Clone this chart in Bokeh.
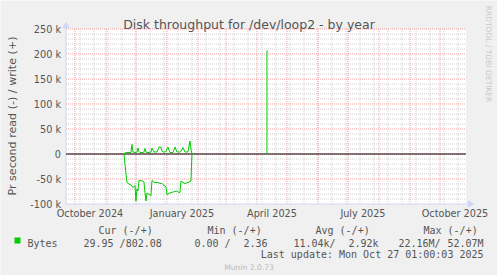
import math
import pandas as pd
from bokeh.plotting import figure
from bokeh.models import FixedTicker, Label, BoxAnnotation, Range1d
from bokeh.embed import file_html
from bokeh.resources import INLINE

# ---------------- data ----------------
dates = ["2024-11-19", "2024-11-20", "2024-11-22", "2024-11-24", "2024-11-26", "2024-11-27",
         "2024-11-28", "2024-11-30", "2024-12-01", "2024-12-02", "2024-12-03", "2024-12-04",
         "2024-12-05", "2024-12-08", "2024-12-09", "2024-12-10", "2024-12-11", "2024-12-12",
         "2024-12-14", "2024-12-16", "2024-12-17", "2024-12-19", "2024-12-20", "2024-12-22",
         "2024-12-23", "2024-12-24", "2024-12-26", "2024-12-27", "2024-12-28", "2024-12-30",
         "2024-12-31", "2025-01-01", "2025-01-02", "2025-01-04", "2025-01-07", "2025-01-09",
         "2025-01-11", "2025-01-13", "2025-01-14", "2025-01-15", "2025-01-17", "2025-01-19",
         "2025-01-22", "2025-01-24", "2025-01-25", "2025-01-26"]
write_bps = [0, 2000, 3000, 3000, 3000, 19000,
             4000, 3000, 3000, 4000, 12000, 5000,
             3000, 3000, 4000, 11000, 4000, 3000,
             3000, 4000, 12000, 4000, 4000, 4000,
             8000, 14000, 14000, 6000, 4000, 4000,
             5000, 10000, 14000, 3000, 3000, 14000,
             4000, 4000, 4000, 5000, 13000, 4000,
             4000, 26000, 10000, 0]
read_bps = [0, 20000, 57000, 60000, 62000, 64000,
            67000, 63000, 94000, 70000, 74000, 53000,
            53000, 54000, 56000, 77000, 94000, 78000,
            80000, 84000, 53000, 56000, 57000, 57000,
            57000, 58000, 59000, 59000, 61000, 64000,
            66000, 81000, 80000, 78000, 76000, 75000,
            74000, 77000, 77000, 54000, 57000, 59000,
            57000, 55000, 54000, 0]
spike_dates = ["2025-04-11", "2025-04-11", "2025-04-12"]
spike_write = [0, 206000, 206000]

y_ticks = [-100000, -50000, 0, 50000, 100000, 150000, 200000, 250000]
y_tick_labels = ["-100 k", "-50 k", "0", "50 k", "100 k", "150 k", "200 k", "250 k"]
x_label_dates = ["2024-10-16", "2025-01-16", "2025-04-16", "2025-07-16", "2025-10-16"]
x_tick_labels = ["October 2024", "January 2025", "April 2025", "July 2025", "October 2025"]

legend_headers = ["Cur (-/+)", "Min (-/+)", "Avg (-/+)", "Max (-/+)"]
legend_read = ["29.95", "0.00", "11.04k", "22.16M"]
legend_write = ["802.08", "2.36", "2.92k", "52.07M"]
last_update = "Mon Oct 27 01:00:03 2025"
graph_end = "2025-10-27 01:00:03"
graph_days = 400

# ---------------- helpers ----------------
DAY = 86400000
YPX = 2000  # value units per pixel


def ms(s):
    return int(pd.Timestamp(s).value // 10**6)


T_END = ms(graph_end)
T0 = T_END - graph_days * DAY

W, H = 497, 275
# frame covers the whole canvas; canvas x=65.5 <-> T0, canvas y=28.5 <-> 250k
X0 = T0 - 65.5 * DAY
X1 = X0 + W * DAY
YTOP = 250000 + 28.5 * YPX
YBOT = YTOP - H * YPX

FONT = "DejaVu Sans"
MONO = "DejaVu Sans Mono"
TXT = "#555555"

p = figure(width=W, height=H, output_backend="svg", toolbar_location=None,
           x_range=Range1d(X0, X1), y_range=Range1d(YBOT, YTOP),
           min_border=0, min_border_left=0, min_border_right=0,
           min_border_top=0, min_border_bottom=0,
           background_fill_color="#F0F0F0", border_fill_color="#F0F0F0",
           outline_line_color=None)
p.xgrid.visible = False
p.ygrid.visible = False

# canvas
p.add_layout(BoxAnnotation(left=T0, right=T_END, bottom=-100000, top=250000,
                           fill_color="white", fill_alpha=1.0, line_color=None,
                           level="underlay"))

# grid
month_starts = [ms(d) for d in pd.date_range("2024-10-01", "2025-10-01", freq="MS")]
biweekly = [ms(d) for d in pd.date_range("2024-10-06", "2025-10-26", freq="14D")]
minor_y = [v for v in range(-90000, 250001, 10000) if v % 50000 != 0]
major_y = [v for v in range(-50000, 250001, 50000)]

GRID = "#d0d0d0"
MGRID = "#f0a0a0"
p.segment(x0=biweekly, y0=[-100000] * len(biweekly), x1=biweekly, y1=[250000] * len(biweekly),
          line_color=GRID, line_dash="1 1", line_width=1)
p.segment(x0=[T0] * len(minor_y), y0=minor_y, x1=[T_END] * len(minor_y), y1=minor_y,
          line_color=GRID, line_dash="1 1", line_width=1)
p.segment(x0=month_starts, y0=[-100000] * len(month_starts), x1=month_starts,
          y1=[250000] * len(month_starts), line_color=MGRID, line_dash="1 1", line_width=1)
p.segment(x0=[T0] * len(major_y), y0=major_y, x1=[T_END] * len(major_y), y1=major_y,
          line_color=MGRID, line_dash="1 1", line_width=1)

# axis lines + arrows
AX = "#CFD6F8"
p.line(x=[T0, T0], y=[-100000, 257000], line_color=AX, line_width=1)
p.line(x=[T0, T_END + 4 * DAY], y=[-100000, -100000], line_color=AX, line_width=1)
p.scatter(x=[T0], y=[256000], marker="triangle", size=6, fill_color=AX, line_color=AX)
p.scatter(x=[T_END + 4 * DAY], y=[-100000], marker="triangle", size=6, angle=-math.pi / 2,
          fill_color=AX, line_color=AX)

# zero rule
p.line(x=[T0, T_END], y=[0, 0], line_color="black", line_width=1)

# data
xs = [ms(d) for d in dates]
GREEN = "#00CC00"
p.line(x=xs, y=write_bps, line_color=GREEN, line_width=1)
p.line(x=xs, y=[-v for v in read_bps], line_color=GREEN, line_width=1)
p.line(x=[ms(d) for d in spike_dates], y=spike_write, line_color=GREEN, line_width=1)

# axes (drawn at fixed data locations, taking no border space)
p.yaxis.ticker = FixedTicker(ticks=y_ticks)
p.yaxis.major_label_overrides = dict(zip(y_ticks, y_tick_labels))
p.yaxis.fixed_location = T0
x_label_ms = [ms(d) for d in x_label_dates]
p.xaxis.ticker = FixedTicker(ticks=x_label_ms)
p.xaxis.major_label_overrides = dict(zip(x_label_ms, x_tick_labels))
p.xaxis.fixed_location = -100000
for ax in (p.xaxis[0], p.yaxis[0]):
    ax.axis_line_color = None
    ax.major_tick_line_color = None
    ax.minor_tick_line_color = None
    ax.major_tick_out = 0
    ax.major_tick_in = 0
    ax.major_label_text_font = FONT
    ax.major_label_text_font_size = "9.7px"
    ax.major_label_text_color = TXT
p.yaxis.major_label_standoff = 5
p.xaxis.major_label_standoff = 4


def add_text(txt, cx, cy, size, color=TXT, align="left", baseline="alphabetic",
             font=FONT, angle=0.0):
    p.add_layout(Label(x=cx, y=H - cy, x_units="screen", y_units="screen",
                       text=txt, text_font=font, text_font_size=size, text_color=color,
                       text_align=align, text_baseline=baseline, angle=angle))


add_text("Disk throughput for /dev/loop2 - by year", 248.5, 24, "12.5px", align="center")
add_text("Pr second read (-) / write (+)", 11.5, 115.5, "11.1px", align="center",
         baseline="middle", angle=math.pi / 2)
add_text("RRDTOOL / TOBI OETIKER", 488, 53.5, "7.5px", color="#c8c8c8", align="center",
         baseline="middle", angle=-math.pi / 2)

# legend
for hdr, x in zip(legend_headers, [98, 207, 315, 423]):
    add_text(hdr, x, 230, "10px", font=MONO)
p.add_layout(BoxAnnotation(left=X0 + 14 * DAY, right=X0 + 20 * DAY,
                           top=YTOP - 237 * YPX, bottom=YTOP - 243 * YPX,
                           fill_color=GREEN, fill_alpha=1.0, line_color=None))
add_text("Bytes", 27, 242.5, "10px", font=MONO)
add_text(legend_read[0] + " /" + legend_write[0], 83, 242.5, "10px", font=MONO)
add_text(legend_read[1] + " /", 194, 242.5, "10px", font=MONO)
add_text(legend_write[1], 267, 242.5, "10px", font=MONO, align="right")
add_text(legend_read[2] + "/", 293, 242.5, "10px", font=MONO)
add_text(legend_write[2], 378, 242.5, "10px", font=MONO, align="right")
add_text(legend_read[3] + "/", 398, 242.5, "10px", font=MONO)
add_text(legend_write[3], 483, 242.5, "10px", font=MONO, align="right")
add_text("Last update: " + last_update, 483, 254, "10px", font=MONO, align="right")
add_text("Munin 2.0.73", 248.5, 266.5, "7.6px", color="#bbbbbb", align="center")

open("out.html", "w").write(file_html(p, INLINE, title="Disk throughput for /dev/loop2 - by year"))
